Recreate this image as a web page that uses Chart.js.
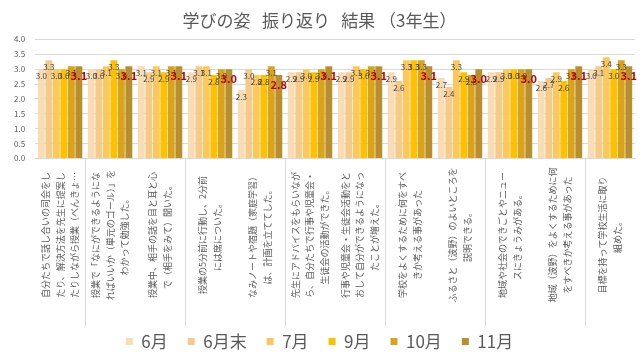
<!DOCTYPE html>
<html>
<head>
<meta charset="utf-8">
<script src="https://cdn.jsdelivr.net/npm/chart.js@4.4.1/dist/chart.umd.min.js"></script>
<style>
  html, body { margin: 0; padding: 0; background: #fff; }
</style>
</head>
<body>
<canvas id="barChart" width="640" height="360"></canvas>
<script>
// 月ごとの系列
const months = ['6月', '6月末', '7月', '9月', '10月', '11月'];
const monthColors = ['#F8DDB4', '#F5CB8C', '#FCC85C', '#FFC000', '#D8A41C', '#B98F2E'];

// 項目番号と項目の文
const itemNumbers = ['1', '2', '3', '4', '5', '7', '8', '9', '10', '11', '12', '13'];
const itemTexts = [
  ['自分たちで話し合いの司会をし', 'たり、解決方法を先生に提案し', 'たりしながら授業（べんきょ…'],
  ['授業で「なにができるようにな', 'ればいいか（単元のゴール）」を', 'わかって勉強した。'],
  ['授業中、相手の話を目と耳と心', 'で（相手をみて）聞いた。'],
  ['授業の5分前に行動し、2分前', 'には席についた。'],
  ['なみノートや宿題（家庭学習）', 'は、計画を立ててした。'],
  ['先生にアドバイスをもらいなが', 'ら、自分たちで行事や児童会・', '生徒会の活動ができた。'],
  ['行事や児童会・生徒会活動をと', 'おして自分ができるようになっ', 'たことが増えた。'],
  ['学校をよくするために何をすべ', 'きか考える事があった'],
  ['ふるさと（波野）のよいところを', '説明できる。'],
  ['地域や社会のできごとやニュー', 'スにきょうみがある。'],
  ['地域（波野）をよくするために何', 'をすべきか考える事があった'],
  ['目標を持って学校生活に取り', '組めた。']
];

const june      = [3.0, 3.0, 3.1, 2.9, 2.3, 2.9, 2.9, 2.9, 2.7, 2.9, 2.6, 3.0];
const juneEnd   = [3.3, 3.0, 2.9, 3.1, 3.0, 2.9, 2.9, 2.6, 2.4, 2.9, 2.7, 3.1];
const july      = [3.0, 3.1, 3.1, 3.1, 2.8, 3.0, 3.1, 3.3, 3.3, 3.0, 2.9, 3.4];
const september = [3.0, 3.3, 2.9, 2.8, 2.8, 2.9, 3.0, 3.3, 2.9, 3.0, 2.6, 3.0];
const october   = [3.1, 3.0, 3.1, 3.0, 3.1, 3.0, 3.1, 3.3, 2.8, 3.0, 3.0, 3.3];
const november  = [3.1, 3.1, 3.1, 3.0, 2.8, 3.1, 3.1, 3.1, 3.0, 3.0, 3.1, 3.1];

const yMin = 0;
const yMax = 4;
const yStep = 0.5;

const seriesValues = [june, juneEnd, july, september, october, november];

const FONT = '"Noto Sans CJK JP", "Noto Sans", sans-serif';
const GREY = '#595959';

// 縦書き風の項目名（カテゴリの中心に回転して描く）
const itemTextPlugin = {
  id: 'itemText',
  afterDraw(chart) {
    const ctx = chart.ctx;
    const xs = chart.scales.x;
    const lineH = 14.5;
    const centerY = 235;
    ctx.save();
    ctx.font = '9px ' + FONT;
    ctx.fillStyle = GREY;
    ctx.textAlign = 'center';
    ctx.textBaseline = 'middle';
    itemTexts.forEach((lines, i) => {
      const x = xs.getPixelForValue(i);
      ctx.save();
      ctx.translate(x, centerY);
      ctx.rotate(-Math.PI / 2);
      lines.forEach((line, j) => {
        ctx.fillText(line, 0, (j - (lines.length - 1) / 2) * lineH);
      });
      ctx.restore();
    });
    ctx.restore();
  }
};

// 値ラベル
const valueLabelPlugin = {
  id: 'valueLabel',
  afterDatasetsDraw(chart) {
    const ctx = chart.ctx;
    ctx.save();
    ctx.textAlign = 'center';
    ctx.textBaseline = 'middle';
    chart.data.datasets.forEach((ds, di) => {
      const meta = chart.getDatasetMeta(di);
      const last = di === chart.data.datasets.length - 1;
      meta.data.forEach((bar, i) => {
        const txt = ds.data[i].toFixed(1);
        if (last) {
          ctx.font = 'bold 11px ' + FONT;
          ctx.fillStyle = '#C00000';
          ctx.fillText(txt, bar.x, bar.y + 10);
        } else {
          ctx.font = '8px ' + FONT;
          ctx.fillStyle = '#404040';
          ctx.fillText(txt, bar.x, bar.y + 7);
        }
      });
    });
    ctx.restore();
  }
};

new Chart(document.getElementById('barChart'), {
  type: 'bar',
  data: {
    labels: itemNumbers,
    datasets: months.map((m, k) => ({
      label: m,
      data: seriesValues[k],
      backgroundColor: monthColors[k],
      borderWidth: 0,
      categoryPercentage: 0.9,
      barPercentage: 0.92
    }))
  },
  options: {
    responsive: false,
    animation: false,
    devicePixelRatio: 1,
    layout: {
      padding: { left: 4, right: 5, top: 0, bottom: 0 }
    },
    plugins: {
      title: {
        display: true,
        text: '学びの姿   振り返り   結果 （3年生）',
        color: GREY,
        font: { family: FONT, size: 17, weight: 'normal' },
        padding: { top: 10, bottom: 9 }
      },
      legend: {
        position: 'bottom',
        labels: {
          color: GREY,
          font: { family: FONT, size: 17 },
          boxWidth: 7,
          boxHeight: 7,
          padding: 20
        }
      },
      tooltip: { enabled: false }
    },
    scales: {
      x: {
        grid: {
          drawOnChartArea: false,
          drawTicks: true,
          tickLength: 168,
          color: (c) => (c.index % 2 === 1 ? '#D9D9D9' : 'rgba(0,0,0,0)')
        },
        border: { display: true, color: '#D9D9D9' },
        ticks: {
          color: GREY,
          font: { family: FONT, size: 8 },
          padding: -11.5,
          maxRotation: 0
        }
      },
      y: {
        min: yMin,
        max: yMax,
        ticks: {
          stepSize: yStep,
          color: GREY,
          font: { family: FONT, size: 8 },
          padding: 10,
          callback: (v) => v.toFixed(1)
        },
        grid: { color: '#D9D9D9', drawTicks: false },
        border: { display: false }
      }
    }
  },
  plugins: [itemTextPlugin, valueLabelPlugin]
});
</script>
</body>
</html>
